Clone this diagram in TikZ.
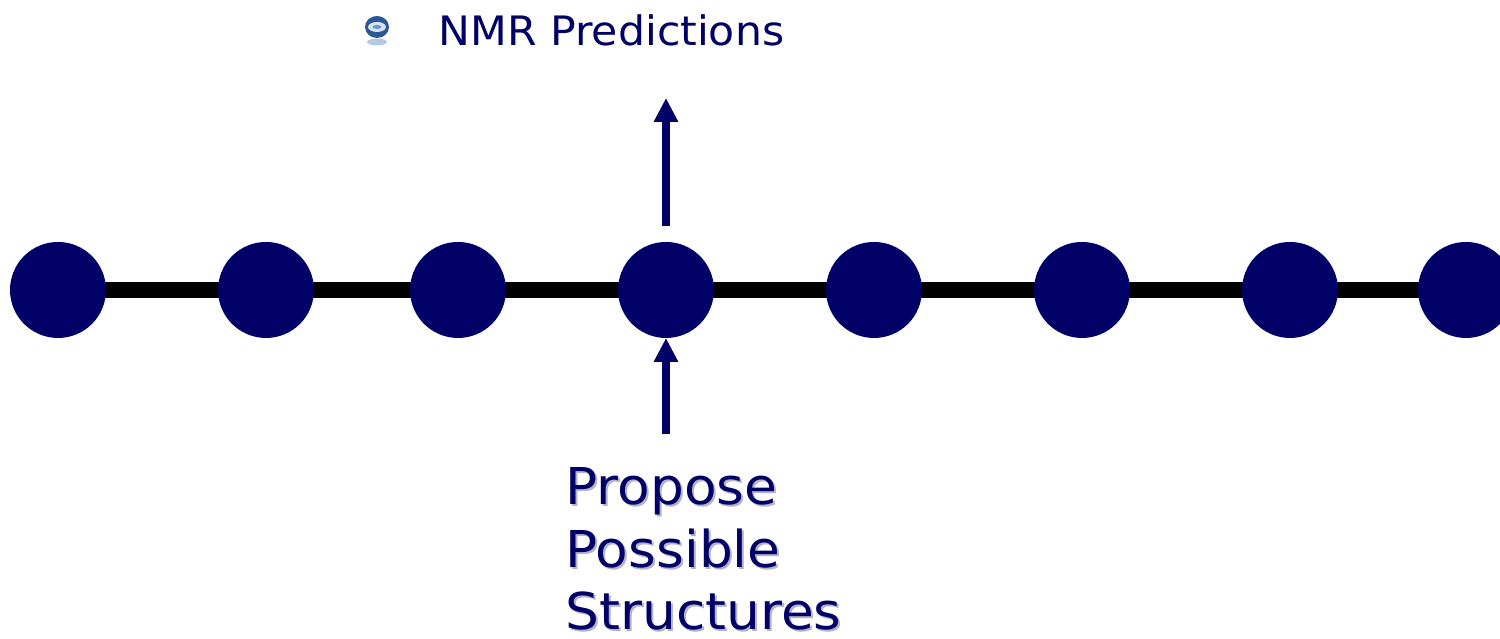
\documentclass[tikz,border=0pt]{standalone}
\usepackage{fontspec}
\setmainfont[FakeStretch=1.05]{DejaVu Sans}
\usetikzlibrary{arrows.meta,positioning,backgrounds}
\definecolor{BeadNavy}{HTML}{000066}
\definecolor{BallBlue}{HTML}{2F66B0}
\definecolor{BallPale}{HTML}{D5E2F0}
\definecolor{EchoGray}{HTML}{B4B4C4}
\begin{document}
\begin{tikzpicture}[
        bead/.style={circle,fill=BeadNavy,minimum size=0.96cm,inner sep=0pt,outer sep=0pt},
        chainlink/.style={line width=0.16cm,black},
        pointer/.style={line width=0.08cm,BeadNavy,
                     -{Triangle[length=0.24cm,width=0.23cm]}},
        smalllabel/.style={text=BeadNavy,inner sep=0pt,
                     font=\fontsize{11.54}{14}\selectfont},
        biglabel/.style={inner sep=0pt,align=left,
                     font=\fontsize{14.45}{17.9}\selectfont}]
        \useasboundingbox (0,0) rectangle (15,6.39);
        % bullet in front of the heading
        \fill[BallBlue!35] (3.77,5.97) ellipse (0.10 and 0.035);
        \fill[BallBlue!85!black] (3.77,6.12) ellipse (0.12 and 0.11);
        \fill[BallPale] (3.77,6.12) ellipse (0.09 and 0.05);
        \fill[BallBlue!70] (3.77,6.12) ellipse (0.045 and 0.02);
        \node[smalllabel,anchor=base west] (pred) at (4.38,5.93) {NMR Predictions};
        % the chain
        \foreach \name/\xpos in {b1/0.58,b2/2.66,b3/4.58,b4/6.66,b5/8.74,b6/10.82,b7/12.90,b8/14.66}{
          \node[bead] (\name) at (\xpos,3.49) {};
        }
        \begin{scope}[on background layer]
          \foreach \a/\b in {b1/b2,b2/b3,b3/b4,b4/b5,b5/b6,b6/b7,b7/b8}{
            \draw[chainlink] (\a.center) -- (\b.center);
          }
        \end{scope}
        % arrows on the fourth bead
        \coordinate (uptail) at (6.66,4.13);
        \coordinate (uphead) at (6.66,5.41);
        \coordinate (lowtail) at (6.66,2.05);
        \draw[pointer] (uptail) -- (uphead);
        \draw[pointer] (lowtail) -- (b4);
        \node[biglabel,text=EchoGray,anchor=base west] (proposeecho) at (5.67,0.07)
              {Propose\\Possible\\Structures};
        \node[biglabel,text=BeadNavy,anchor=base west] (propose) at (5.65,0.09)
              {Propose\\Possible\\Structures};
      \end{tikzpicture}
\end{document}
